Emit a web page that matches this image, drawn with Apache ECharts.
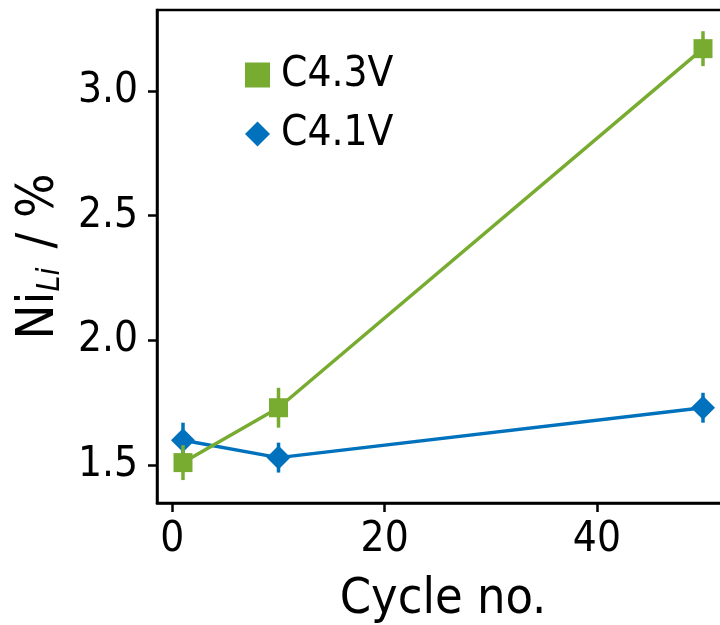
<!DOCTYPE html>
<html>
<head>
<meta charset="utf-8">
<script src="https://cdn.jsdelivr.net/npm/echarts@6/dist/echarts.min.js"></script>
<style>
  html, body { margin: 0; padding: 0; background: #fff; }
  #chart { width: 720px; height: 625px; }
</style>
</head>
<body>
<div id="chart"></div>
<script>
// cycle numbers and Ni_Li values
const cycles = [1, 10, 50]
const c43 = [1.51, 1.73, 3.17]
const c43Err = [0.07, 0.08, 0.07]
const c41 = [1.60, 1.53, 1.73]
const c41Err = [0.07, 0.06, 0.06]
const xTicks = [0, 20, 40]
const yTicks = [1.5, 2.0, 2.5, 3.0]

const GREEN = '#77AC30'
const BLUE = '#0072BD'
const FONT = '"DejaVu Sans Condensed", "DejaVu Sans", sans-serif'

const chart = echarts.init(document.getElementById('chart'))

const pairs = (ys) => cycles.map((x, i) => [x, ys[i]])
const errData = (ys, es) => cycles.map((x, i) => [x, ys[i], es[i]])

// vertical error bars, no caps
const errorBar = (color) => (params, api) => {
  const x = api.value(0), y = api.value(1), e = api.value(2)
  const lo = api.coord([x, y - e])
  const hi = api.coord([x, y + e])
  return {
    type: 'line',
    shape: { x1: lo[0], y1: lo[1], x2: hi[0], y2: hi[1] },
    style: { stroke: color, lineWidth: 3.5 }
  }
}

const axisLine = { show: true, onZero: false, lineStyle: { color: '#000', width: 2.5 } }

const option = {
  animation: false,
  grid: {
    left: 157, top: 10, width: 572, height: 493,
    outerBoundsMode: 'none',
    containLabel: false,
    show: true, borderColor: '#000', borderWidth: 2.5,
    backgroundColor: 'transparent'
  },
  legend: {
    orient: 'vertical',
    left: 240, top: 49,
    itemWidth: 25, itemHeight: 25,
    itemGap: 17,
    data: [
      { name: 'C4.3V', icon: 'rect' },
      { name: 'C4.1V', icon: 'diamond' }
    ],
    textStyle: { fontFamily: FONT, fontSize: 42, color: '#000', padding: [0, 0, 0, 6] }
  },
  xAxis: {
    type: 'value',
    min: -1.45, max: 52.45,
    name: 'Cycle no.',
    nameLocation: 'middle',
    nameGap: 72,
    nameTextStyle: { fontFamily: FONT, fontSize: 50, color: '#000' },
    axisLine: axisLine,
    splitLine: { show: false },
    axisTick: { show: true, inside: false, customValues: xTicks, length: 9, lineStyle: { color: '#000', width: 2.5 } },
    axisLabel: { customValues: xTicks, margin: 16, fontFamily: FONT, fontSize: 42, color: '#000' }
  },
  yAxis: {
    type: 'value',
    min: 1.348, max: 3.325,
    name: '{a|Ni}{b|Li}{a| / %}',
    nameLocation: 'middle',
    nameRotate: 90,
    nameGap: 88,
    nameTextStyle: {
      fontFamily: FONT, color: '#000',
      rich: {
        a: { fontFamily: FONT, fontSize: 52, color: '#000', lineHeight: 56 },
        b: { fontFamily: FONT, fontSize: 32, fontStyle: 'italic', color: '#000', lineHeight: 24, verticalAlign: 'bottom', padding: [0, 4, 0, 0] }
      }
    },
    axisLine: axisLine,
    splitLine: { show: false },
    axisTick: { show: true, inside: false, customValues: yTicks, length: 9, lineStyle: { color: '#000', width: 2.5 } },
    axisLabel: {
      customValues: yTicks, margin: 19, fontFamily: FONT, fontSize: 42, color: '#000',
      formatter: (v) => v.toFixed(1)
    }
  },
  series: [
    {
      name: 'C4.1V', type: 'line', data: pairs(c41),
      symbol: 'diamond', symbolSize: 24,
      lineStyle: { color: BLUE, width: 3.5 }, itemStyle: { color: BLUE }, z: 2
    },
    {
      type: 'custom', data: errData(c41, c41Err),
      renderItem: errorBar(BLUE), z: 2, silent: true
    },
    {
      name: 'C4.3V', type: 'line', data: pairs(c43),
      symbol: 'rect', symbolSize: 19,
      lineStyle: { color: GREEN, width: 3.5 }, itemStyle: { color: GREEN }, z: 3
    },
    {
      type: 'custom', data: errData(c43, c43Err),
      renderItem: errorBar(GREEN), z: 3, silent: true
    }
  ]
}

chart.setOption(option)
</script>
</body>
</html>
